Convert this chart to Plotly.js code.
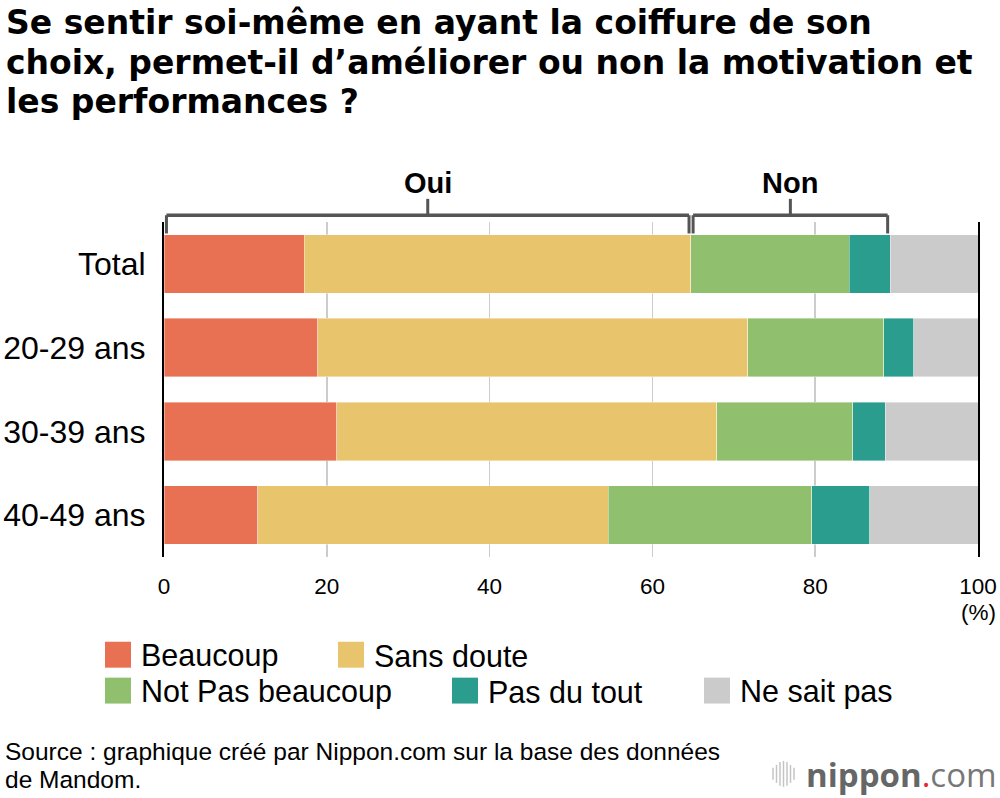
<!DOCTYPE html>
<html>
<head>
<meta charset="utf-8">
<script src="https://cdn.plot.ly/plotly-3.0.1.min.js"></script>
<style>html,body{margin:0;padding:0;background:#fff;}#chart{width:1000px;height:798px;}</style>
</head>
<body>
<div id="chart"></div>
<script>
// ---- Data ----
const categories = ["Total", "20-29 ans", "30-39 ans", "40-49 ans"];
const seriesNames = ["Beaucoup", "Sans doute", "Not Pas beaucoup", "Pas du tout", "Ne sait pas"];
const beaucoup     = [17.2, 18.9, 21.2, 11.5];
const sansDoute    = [47.5, 52.8, 46.7, 43.1];
const pasBeaucoup  = [19.5, 16.7, 16.7, 25.0];
const pasDuTout    = [5.0, 3.7, 4.0, 7.1];
const neSaitPas    = [10.8, 7.9, 11.4, 13.3];
const seriesColors = ["#E87153", "#E8C46C", "#90BF6E", "#2A9D8F", "#CBCBCB"];
const xTickVals = [0, 20, 40, 60, 80, 100];
const groupLabels = ["Oui", "Non"];
const titleLines = [
  "Se sentir soi-même en ayant la coiffure de son",
  "choix, permet-il d’améliorer ou non la motivation et",
  "les performances ?"
];
const sourceLines = ["Source : graphique créé par Nippon.com sur la base des données", "de Mandom."];

const seriesValues = [beaucoup, sansDoute, pasBeaucoup, pasDuTout, neSaitPas];

// ---- Pixel helpers for the fixed 1000x798 layout ----
const W = 1000, H = 798;
const M = {l: 164, r: 22, t: 221.5, b: 240.5};
const PW = W - M.l - M.r, PH = H - M.t - M.b;
const px = p => (p - M.l) / PW;       // pixel x -> paper x
const py = p => (H - M.b - p) / PH;   // pixel y -> paper y

const BODY = "'Liberation Sans', Arial, Helvetica, sans-serif";
const TITLE = "'DejaVu Sans', sans-serif";

const traces = seriesValues.map((vals, i) => ({
  type: "bar",
  orientation: "h",
  name: seriesNames[i],
  y: categories,
  x: vals,
  marker: {color: seriesColors[i], line: {color: "rgba(255,255,255,0.5)", width: 0.8}},
  showlegend: false,
  hoverinfo: "skip"
}));

// Bracket positions derived from the Total row
const ouiEnd = beaucoup[0] + sansDoute[0];
const nonEnd = ouiEnd + pasBeaucoup[0] + pasDuTout[0];
const yLine = py(214.7), yEnd = py(233), yUp = py(198.3), yLab = py(182);
const bc = "#555555";
const shapes = [];
function bracket(x0, x1) {
  shapes.push({type: "line", xref: "x", yref: "paper", x0: x0, x1: x1, y0: yLine, y1: yLine, line: {color: bc, width: 3.5}});
  shapes.push({type: "line", xref: "x", yref: "paper", x0: x0, x1: x0, y0: yLine, y1: yEnd, line: {color: bc, width: 3}});
  shapes.push({type: "line", xref: "x", yref: "paper", x0: x1, x1: x1, y0: yLine, y1: yEnd, line: {color: bc, width: 3}});
  const xm = (x0 + x1) / 2;
  shapes.push({type: "line", xref: "x", yref: "paper", x0: xm, x1: xm, y0: yLine, y1: yUp, line: {color: bc, width: 3}});
  return xm;
}
const ouiMid = bracket(0.3, ouiEnd - 0.2);
const nonMid = bracket(ouiEnd + 0.3, nonEnd - 0.3);

const annotations = [
  {xref: "x", yref: "paper", x: ouiMid, y: yLab, text: "<b>" + groupLabels[0] + "</b>", showarrow: false, xanchor: "center", yanchor: "middle", font: {size: 29, color: "#000"}},
  {xref: "x", yref: "paper", x: nonMid, y: yLab, text: "<b>" + groupLabels[1] + "</b>", showarrow: false, xanchor: "center", yanchor: "middle", font: {size: 29, color: "#000"}},
  {xref: "x", yref: "paper", x: 100, y: py(613), text: "(%)", showarrow: false, xanchor: "center", yanchor: "middle", font: {size: 22.5, color: "#000"}}
];

// Title lines
const titleCenters = [21.8, 61.2, 100.5];
titleLines.forEach((t, k) => {
  annotations.push({xref: "paper", yref: "paper", x: px(4), y: py(titleCenters[k]), text: "<b>" + t + "</b>", showarrow: false, xanchor: "left", yanchor: "middle", font: {size: 33, color: "#000", family: TITLE}});
});

// Custom legend
const legendItems = [
  {i: 0, sx: 105, row: 0},
  {i: 1, sx: 338, row: 0},
  {i: 2, sx: 105, row: 1},
  {i: 3, sx: 452, row: 1},
  {i: 4, sx: 704, row: 1}
];
const rowCenters = [655.5, 691.5];
legendItems.forEach(it => {
  const cy = rowCenters[it.row];
  shapes.push({type: "rect", xref: "paper", yref: "paper", x0: px(it.sx), x1: px(it.sx + 26), y0: py(cy - 13), y1: py(cy + 13), fillcolor: seriesColors[it.i], line: {width: 0}});
  annotations.push({xref: "paper", yref: "paper", x: px(it.sx + 34), y: py(cy + 1), text: seriesNames[it.i], showarrow: false, xanchor: "left", yanchor: "middle", font: {size: 30.5, color: "#000"}});
});

// Source
const sourceCenters = [753, 781];
sourceLines.forEach((t, k) => {
  annotations.push({xref: "paper", yref: "paper", x: px(3), y: py(sourceCenters[k]), text: t, showarrow: false, xanchor: "left", yanchor: "middle", align: "left", font: {size: 24.5, color: "#000"}});
});

// Logo
annotations.push({xref: "paper", yref: "paper", x: px(999), y: py(776), text: "<b>nippon</b><span style='color:#e8262b'>.</span><span style='color:#777'>com</span>", showarrow: false, xanchor: "right", yanchor: "middle", font: {size: 33, color: "#666666", family: "'Open Sans', sans-serif"}});
const iconH = [6, 9, 12, 13, 12, 9, 6];
iconH.forEach((h, k) => {
  const x = 773 + k * 3.5;
  shapes.push({type: "line", xref: "paper", yref: "paper", x0: px(x), x1: px(x), y0: py(775 - h), y1: py(775 + h), line: {color: "#c4c4c4", width: 1.5}});
});

const layout = {
  width: W, height: H,
  margin: M,
  barmode: "stack",
  bargap: 0.3,
  paper_bgcolor: "#fff",
  plot_bgcolor: "#fff",
  font: {family: BODY, color: "#000"},
  xaxis: {
    range: [0, 100],
    tickvals: xTickVals,
    ticktext: xTickVals.map(String),
    showgrid: true, gridcolor: "#cccccc", gridwidth: 1.5,
    zeroline: false,
    showline: false,
    ticks: "",
    ticklabelstandoff: 13,
    tickfont: {size: 22.5, color: "#000"},
    fixedrange: true
  },
  yaxis: {
    autorange: "reversed",
    showgrid: false,
    zeroline: false,
    showline: true, linecolor: "#000", linewidth: 2, mirror: true,
    ticks: "",
    ticklabelstandoff: 10,
    tickfont: {size: 32, color: "#000"},
    fixedrange: true
  },
  shapes: shapes,
  annotations: annotations
};

Plotly.newPlot("chart", traces, layout, {staticPlot: true, displayModeBar: false});
</script>
</body>
</html>
